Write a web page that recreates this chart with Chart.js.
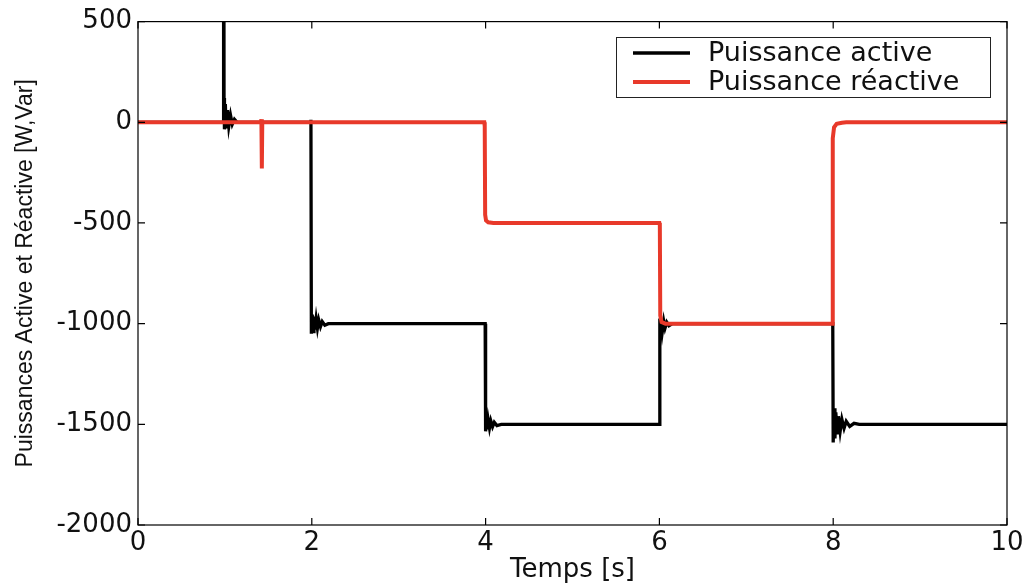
<!DOCTYPE html>
<html>
<head>
<meta charset="utf-8">
<script src="https://cdn.jsdelivr.net/npm/chart.js@4.4.0/dist/chart.umd.min.js"></script>
<style>
  body { margin: 0; background: #fff; }
  #graphe { display: block; }
</style>
</head>
<body>
<canvas id="graphe" width="1028" height="586"></canvas>
<script>
// Puissance active (noir)
var tempsActive = [0, 0.98, 0.985, 0.99, 0.995, 1.005, 1.015, 1.03, 1.045, 1.065, 1.085, 1.11, 1.14,
  1.985, 1.99, 1.995, 2.005, 2.015, 2.025, 2.035, 2.05, 2.065, 2.08, 2.1, 2.12, 2.15, 2.19,
  3.995, 4.0, 4.01, 4.02, 4.03, 4.045, 4.06, 4.08, 4.1, 4.13, 4.18,
  6.0, 6.005, 6.015, 6.025, 6.035, 6.05, 6.065, 6.085, 6.11, 6.15,
  7.995, 8.0, 8.01, 8.02, 8.03, 8.045, 8.06, 8.08, 8.1, 8.125, 8.15, 8.19, 8.24, 8.3, 10];
var puissanceActive = [0, 0, 2500, 120, -35, 90, -30, 60, -20, 35, -10, 15, 0,
  0, 12, -1050, -955, -1040, -965, -1030, -975, -1022, -982, -1015, -990, -1008, -1000,
  -1000, -1535, -1470, -1525, -1478, -1518, -1483, -1512, -1490, -1506, -1500,
  -1500, -975, -1050, -980, -1035, -988, -1022, -993, -1010, -1000,
  -1000, -1590, -1420, -1570, -1440, -1550, -1460, -1535, -1475, -1520, -1485, -1510, -1495, -1500, -1500];

// Puissance réactive (rouge)
var tempsReactive = [0, 1.415, 1.42, 1.425, 1.43,
  3.985, 3.99, 3.995, 4.005, 4.03, 4.09,
  6.0, 6.005, 6.01, 6.025, 6.07,
  7.99, 7.995, 8.01, 8.04, 8.1, 8.15, 10];
var puissanceReactive = [0, 0, 15, -230, 0,
  0, -20, -460, -488, -497, -500,
  -500, -510, -960, -992, -1000,
  -1000, -80, -25, -8, -2, 0, 0];

var xTicks = [0, 2, 4, 6, 8, 10];
var yTicks = [500, 0, -500, -1000, -1500, -2000];

function points(ts, vs) {
  return ts.map(function (t, i) { return { x: t, y: vs[i] }; });
}

var police = '"DejaVu Sans", sans-serif';

// cadre avec graduations vers l'intérieur (style MATLAB)
var cadre = {
  id: 'cadre',
  afterDatasetsDraw: function (chart) {
    var ctx = chart.ctx, a = chart.chartArea;
    var sx = chart.scales.x, sy = chart.scales.y;
    ctx.save();
    ctx.strokeStyle = '#000';
    ctx.lineWidth = 1.2;
    ctx.strokeRect(a.left, a.top, a.right - a.left, a.bottom - a.top);
    ctx.beginPath();
    xTicks.forEach(function (v) {
      var px = sx.getPixelForValue(v);
      ctx.moveTo(px, a.bottom); ctx.lineTo(px, a.bottom - 7);
      ctx.moveTo(px, a.top); ctx.lineTo(px, a.top + 7);
    });
    yTicks.forEach(function (v) {
      var py = sy.getPixelForValue(v);
      ctx.moveTo(a.left, py); ctx.lineTo(a.left + 7, py);
      ctx.moveTo(a.right, py); ctx.lineTo(a.right - 7, py);
    });
    ctx.stroke();
    ctx.restore();
  },
  afterDraw: function (chart) {
    var ctx = chart.ctx;
    var ds = chart.data.datasets;
    ctx.save();
    ctx.fillStyle = '#fff';
    ctx.fillRect(616, 37, 374, 60);
    ctx.strokeStyle = '#222';
    ctx.lineWidth = 1;
    ctx.strokeRect(616.5, 37.5, 374, 60);
    var rows = [53, 82];
    ds.forEach(function (d, i) {
      ctx.strokeStyle = d.borderColor;
      ctx.lineWidth = d.borderWidth;
      ctx.beginPath();
      ctx.moveTo(633, rows[i]); ctx.lineTo(690, rows[i]);
      ctx.stroke();
      ctx.fillStyle = '#111';
      ctx.font = '27px ' + police;
      ctx.textBaseline = 'middle';
      ctx.fillText(d.label, 708, rows[i] + 1);
    });
    ctx.restore();
  }
};

new Chart(document.getElementById('graphe'), {
  type: 'line',
  data: {
    datasets: [{
      label: 'Puissance active',
      data: points(tempsActive, puissanceActive),
      borderColor: '#000000',
      borderWidth: 3.3,
      pointRadius: 0,
      tension: 0,
      order: 1
    }, {
      label: 'Puissance réactive',
      data: points(tempsReactive, puissanceReactive),
      borderColor: '#e8392a',
      borderWidth: 4,
      pointRadius: 0,
      tension: 0,
      order: 0
    }]
  },
  options: {
    responsive: false,
    animation: false,
    layout: { padding: { left: 0, top: 20, right: 21, bottom: 0 } },
    plugins: {
      legend: { display: false },
      tooltip: { enabled: false }
    },
    scales: {
      x: {
        type: 'linear',
        min: 0, max: 10,
        afterFit: function (s) { s.height = 61; },
        grid: { display: false, drawTicks: false },
        border: { display: false },
        ticks: {
          stepSize: 2, padding: 3, color: '#111',
          font: { family: police, size: 26 },
          callback: function (v) { return String(v); }
        },
        title: {
          display: true, text: 'Temps [s]', color: '#111',
          font: { family: police, size: 26 },
          padding: { top: 0, bottom: 0 }
        }
      },
      y: {
        type: 'linear',
        min: -2000, max: 500,
        afterFit: function (s) { s.width = 138; },
        grid: { display: false, drawTicks: false },
        border: { display: false },
        ticks: {
          stepSize: 500, padding: 6, color: '#111',
          font: { family: police, size: 26 },
          callback: function (v) { return String(v); }
        },
        title: {
          display: true, text: 'Puissances Active et Réactive [W,Var]', color: '#111',
          font: { family: '"Liberation Sans", Arial, sans-serif', size: 23 },
          padding: { top: 12, bottom: 0 }
        }
      }
    }
  },
  plugins: [cadre]
});
</script>
</body>
</html>
